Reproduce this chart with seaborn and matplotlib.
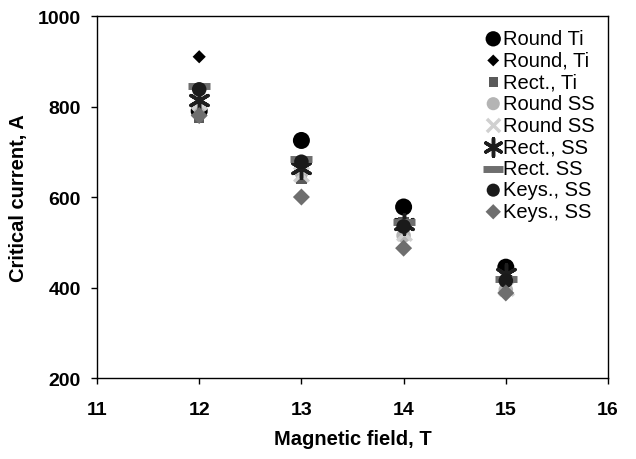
import matplotlib
matplotlib.use("Agg")
import matplotlib.pyplot as plt
import seaborn as sns
import numpy as np
import pandas as pd

sns.set_theme(style="white")
plt.rcParams['font.family'] = ['Liberation Sans', 'DejaVu Sans']
plt.rcParams['text.color'] = 'black'
plt.rcParams['axes.labelcolor'] = 'black'
plt.rcParams['xtick.color'] = 'black'
plt.rcParams['ytick.color'] = 'black'

fields = [12, 13, 14, 15]
round_ti = [790, 725, 578, 445]
round_ti_d = [910, np.nan, np.nan, np.nan]
rect_ti = [775, 640, 545, 415]
round_ss = [800, 655, 515, 395]
round_ss_x = [810, 650, 520, 400]
rect_ss_star = [815, 665, 540, 430]
rect_ss_dash = [845, 685, 545, 418]
keys_ss_o = [838, 678, 535, 415]
keys_ss_d = [780, 600, 487, 388]

labels = ["Round Ti", "Round, Ti", "Rect., Ti", "Round SS", "Round SS",
          "Rect., SS", "Rect. SS", "Keys., SS", "Keys., SS"]
yticks = [200, 400, 600, 800, 1000]
xticks = [11, 12, 13, 14, 15, 16]

series = [round_ti, round_ti_d, rect_ti, round_ss, round_ss_x,
          rect_ss_star, rect_ss_dash, keys_ss_o, keys_ss_d]
styles = [
    dict(marker='o', color='#000000', s=150, lw=0),
    dict(marker='D', color='#000000', s=45, lw=0),
    dict(marker='s', color='#5a5a5a', s=55, lw=0),
    dict(marker='o', color='#b4b4b4', s=110, lw=0),
    dict(marker='x', color='#d0d0d0', s=110, lw=2.5),
    dict(marker=(6, 2, 0), color='#1e1e1e', s=200, lw=2.5),
    dict(marker='_', color='#6e6e6e', s=260, lw=5),
    dict(marker='o', color='#1a1a1a', s=110, lw=0),
    dict(marker='D', color='#6e6e6e', s=75, lw=0),
]

fig = plt.figure(figsize=(6.36, 4.6), dpi=100)
ax = fig.add_axes([0.1525, 0.176, 0.8035, 0.787])

for vals, lab, st in zip(series, labels, styles):
    df = pd.DataFrame({"x": fields, "y": vals}).dropna()
    kw = dict(marker=st['marker'], color=st['color'], s=st['s'], label=lab, ax=ax)
    if st['marker'] in ('x', '_', (6, 2, 0)):
        kw['linewidth'] = st['lw']
    else:
        kw['edgecolor'] = 'none'
    sns.scatterplot(data=df, x="x", y="y", **kw)

ax.set_xlim(11, 16)
ax.set_ylim(200, 1000)
ax.set_xticks(xticks)
ax.set_yticks(yticks)
ax.set_xticklabels([str(t) for t in xticks], fontsize=14, fontweight='bold')
ax.set_yticklabels([str(t) for t in yticks], fontsize=14, fontweight='bold')
ax.tick_params(axis='x', direction='out', length=4.5, width=1, color='black',
               bottom=True, top=False, pad=12)
ax.tick_params(axis='y', direction='out', length=4.5, width=1, color='black',
               left=True, right=False, pad=7)
for sp in ax.spines.values():
    sp.set_color('black')
    sp.set_linewidth(1)
ax.set_xlabel("Magnetic field, T", fontsize=14.5, fontweight='bold', labelpad=8)
ax.set_ylabel("Critical current, A", fontsize=14.5, fontweight='bold', labelpad=7)
ax.grid(False)

leg = ax.legend(loc='upper right', bbox_to_anchor=(1.0, 1.0), frameon=False,
                fontsize=14.5, handletextpad=0.0, labelspacing=0.13,
                handlelength=1.0, borderaxespad=0.25, markerscale=0.9)

fig.savefig("out.png", dpi=100)
